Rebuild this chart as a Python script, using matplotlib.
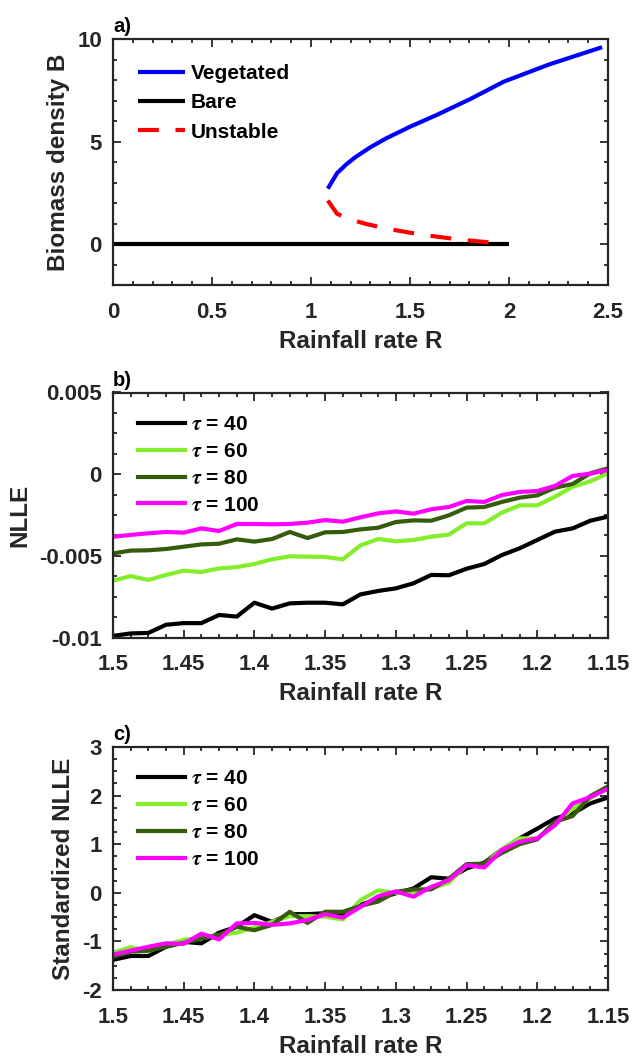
import numpy as np
import matplotlib
matplotlib.use("Agg")
import matplotlib.pyplot as plt
from matplotlib.ticker import MultipleLocator

# ---------------- data ----------------
# Panel a: bifurcation diagram
veg_R = [1.085, 1.132, 1.18, 1.226, 1.30, 1.379, 1.50, 1.634, 1.80, 1.974, 2.20, 2.47]
veg_B = [2.70, 3.46, 3.90, 4.25, 4.72, 5.15, 5.72, 6.29, 7.05, 7.92, 8.75, 9.60]
uns_R = [1.085, 1.132, 1.20, 1.277, 1.40, 1.50, 1.634, 1.75, 1.897]
uns_B = [2.12, 1.47, 1.20, 0.98, 0.72, 0.55, 0.36, 0.22, 0.08]
bare_R = [0.0, 2.0]
bare_B = [0.0, 0.0]

# Panels b, c: rainfall rate grid (decreasing)
R_grid = [1.5, 1.4875, 1.475, 1.4625, 1.45, 1.4375, 1.425, 1.4125, 1.4, 1.3875,
          1.375, 1.3625, 1.35, 1.3375, 1.325, 1.3125, 1.3, 1.2875, 1.275, 1.2625,
          1.25, 1.2375, 1.225, 1.2125, 1.2, 1.1875, 1.175, 1.1625, 1.15]

# NLLE (x 1e-3)
nlle_40 = [-9.90, -9.75, -9.72, -9.22, -9.12, -9.12, -8.62, -8.72, -7.87, -8.23,
           -7.91, -7.87, -7.87, -7.97, -7.36, -7.15, -6.99, -6.68, -6.17, -6.19,
           -5.79, -5.50, -4.95, -4.54, -4.03, -3.52, -3.32, -2.85, -2.60]
nlle_60 = [-6.52, -6.24, -6.48, -6.17, -5.91, -5.99, -5.77, -5.69, -5.50, -5.21,
           -5.03, -5.05, -5.07, -5.21, -4.36, -3.97, -4.11, -4.03, -3.83, -3.70,
           -3.01, -3.01, -2.36, -1.91, -1.91, -1.38, -0.77, -0.44, 0.05]
nlle_80 = [-4.85, -4.68, -4.66, -4.58, -4.44, -4.30, -4.26, -3.99, -4.13, -3.97,
           -3.54, -3.91, -3.56, -3.54, -3.38, -3.28, -2.93, -2.83, -2.85, -2.52,
           -2.05, -2.01, -1.70, -1.44, -1.30, -0.83, -0.60, 0.05, 0.36]
nlle_100 = [-3.83, -3.72, -3.62, -3.54, -3.58, -3.32, -3.48, -3.05, -3.05, -3.07,
            -3.05, -2.97, -2.81, -2.91, -2.64, -2.40, -2.28, -2.42, -2.15, -2.01,
            -1.64, -1.70, -1.28, -1.09, -1.03, -0.72, -0.11, 0.03, 0.26]

# Standardized NLLE
std_40 = [-1.38, -1.30, -1.30, -1.11, -1.01, -1.04, -0.82, -0.70, -0.46, -0.60,
          -0.44, -0.44, -0.42, -0.44, -0.25, -0.12, -0.01, 0.09, 0.32, 0.29,
          0.50, 0.62, 0.89, 1.12, 1.32, 1.53, 1.63, 1.84, 1.96]
std_60 = [-1.23, -1.12, -1.20, -1.07, -0.97, -0.93, -0.87, -0.82, -0.71, -0.60,
          -0.48, -0.48, -0.49, -0.55, -0.15, 0.05, 0.00, 0.02, 0.09, 0.21,
          0.57, 0.59, 0.89, 1.12, 1.12, 1.42, 1.73, 1.94, 2.18]
std_80 = [-1.32, -1.21, -1.19, -1.11, -1.03, -0.94, -0.87, -0.70, -0.77, -0.66,
          -0.39, -0.62, -0.39, -0.39, -0.27, -0.18, 0.02, 0.07, 0.07, 0.29,
          0.59, 0.60, 0.82, 1.00, 1.10, 1.46, 1.58, 1.99, 2.19]
std_100 = [-1.27, -1.19, -1.11, -1.04, -1.05, -0.84, -0.96, -0.63, -0.62, -0.66,
           -0.63, -0.56, -0.44, -0.51, -0.29, -0.07, 0.03, -0.08, 0.12, 0.26,
           0.57, 0.52, 0.88, 1.05, 1.12, 1.39, 1.84, 1.97, 2.14]

tau_labels = [r"$\tau$ = 40", r"$\tau$ = 60", r"$\tau$ = 80", r"$\tau$ = 100"]
tau_colors = ["#000000", "#84ee2c", "#355c0c", "#ff00ff"]

a_xticks = [0, 0.5, 1, 1.5, 2, 2.5]
a_xticklabels = ["0", "0.5", "1", "1.5", "2", "2.5"]
a_yticks = [0, 5, 10]
bc_xticks = [1.5, 1.45, 1.4, 1.35, 1.3, 1.25, 1.2, 1.15]
bc_xticklabels = ["1.5", "1.45", "1.4", "1.35", "1.3", "1.25", "1.2", "1.15"]
b_yticks = [-0.01, -0.005, 0, 0.005]
b_yticklabels = ["-0.01", "-0.005", "0", "0.005"]
c_yticks = [-2, -1, 0, 1, 2, 3]

# ---------------- style ----------------
plt.rcParams["font.family"] = ["Liberation Sans", "DejaVu Sans"]
plt.rcParams["font.weight"] = "bold"
plt.rcParams["mathtext.fontset"] = "stix"
plt.rcParams["axes.unicode_minus"] = False

GRAY = "#262626"
TICK_FS = 16
LABEL_FS = 17.5
LEG_FS = 15
LW = 3.0

W, H = 632, 1059
fig = plt.figure(figsize=(W / 100, H / 100), dpi=100)


def make_axes(top, bottom, left=113, right=608):
    return fig.add_axes([left / W, (H - bottom) / H, (right - left) / W, (bottom - top) / H])


def style_axes(ax):
    for s in ax.spines.values():
        s.set_linewidth(1.6)
        s.set_color(GRAY)
    ax.tick_params(which="both", direction="in", top=True, right=True,
                   colors=GRAY, labelcolor=GRAY, width=1.3)
    ax.tick_params(which="major", length=5.5, labelsize=TICK_FS)
    ax.tick_params(which="minor", length=3)
    ax.tick_params(axis="x", which="major", pad=12)
    ax.tick_params(axis="y", which="major", pad=8)
    for lab in ax.get_xticklabels() + ax.get_yticklabels():
        lab.set_fontweight("bold")


def add_legend(ax, anchor_y, spacing):
    ax.legend(loc="upper left", bbox_to_anchor=(0.05, anchor_y), frameon=False,
              handlelength=2.25, handletextpad=0.3,
              labelspacing=spacing, borderpad=0, borderaxespad=0,
              prop={"weight": "bold", "size": LEG_FS})


def label_axes(ax, xlabel, ylabel, panel):
    ax.set_xlabel(xlabel, fontsize=LABEL_FS, fontweight="bold", color=GRAY, labelpad=5)
    ax.set_ylabel(ylabel, fontsize=LABEL_FS, fontweight="bold", color=GRAY, labelpad=5)
    ax.text(0, 1.012, panel, transform=ax.transAxes, ha="left", va="bottom",
            fontsize=14.5, fontweight="bold", color="black")


# ---------------- panel a ----------------
ax1 = make_axes(39, 285)
ax1.plot(veg_R, veg_B, color="#0000ff", lw=LW, label="Vegetated", solid_capstyle="butt")
ax1.plot(bare_R, bare_B, color="#000000", lw=LW, label="Bare", solid_capstyle="butt")
ax1.plot(uns_R, uns_B, color="#ff0000", lw=LW, ls=(0, (5, 4)), label="Unstable",
         dash_capstyle="butt")
ax1.set_xlim(0, 2.5)
ax1.set_ylim(-2, 10)
ax1.set_xticks(a_xticks)
ax1.set_xticklabels(a_xticklabels)
ax1.set_yticks(a_yticks)
ax1.xaxis.set_minor_locator(MultipleLocator(0.1))
ax1.yaxis.set_minor_locator(MultipleLocator(1))
style_axes(ax1)
label_axes(ax1, "Rainfall rate R", "Biomass density B", "a)")
add_legend(ax1, 0.898, 0.49)

# ---------------- panel b ----------------
ax2 = make_axes(392.5, 637.5)
for vals, lab, col in zip([nlle_40, nlle_60, nlle_80, nlle_100], tau_labels, tau_colors):
    ax2.plot(R_grid, np.array(vals) * 1e-3, color=col, lw=LW, label=lab)
ax2.set_xlim(1.5, 1.15)
ax2.set_ylim(-0.01, 0.005)
ax2.set_xticks(bc_xticks)
ax2.set_xticklabels(bc_xticklabels)
ax2.set_yticks(b_yticks)
ax2.set_yticklabels(b_yticklabels)
ax2.xaxis.set_minor_locator(MultipleLocator(0.0125))
ax2.yaxis.set_minor_locator(MultipleLocator(0.00125))
style_axes(ax2)
label_axes(ax2, "Rainfall rate R", "NLLE", "b)")
add_legend(ax2, 0.908, 0.38)

# ---------------- panel c ----------------
ax3 = make_axes(747, 990)
for vals, lab, col in zip([std_40, std_60, std_80, std_100], tau_labels, tau_colors):
    ax3.plot(R_grid, vals, color=col, lw=LW, label=lab)
ax3.set_xlim(1.5, 1.15)
ax3.set_ylim(-2, 3)
ax3.set_xticks(bc_xticks)
ax3.set_xticklabels(bc_xticklabels)
ax3.set_yticks(c_yticks)
ax3.xaxis.set_minor_locator(MultipleLocator(0.0125))
ax3.yaxis.set_minor_locator(MultipleLocator(0.25))
style_axes(ax3)
label_axes(ax3, "Rainfall rate R", "Standardized NLLE", "c)")
add_legend(ax3, 0.908, 0.38)

fig.savefig("out.png", dpi=100)
